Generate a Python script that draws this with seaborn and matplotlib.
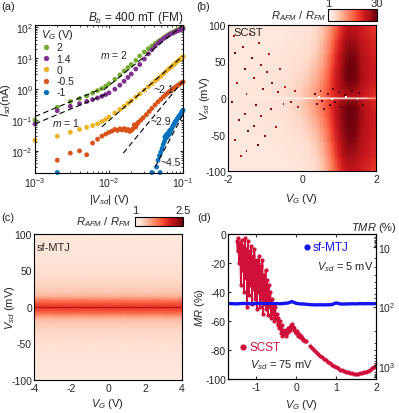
import matplotlib
matplotlib.use("Agg")
import matplotlib.pyplot as plt
from matplotlib.colors import LogNorm, Normalize
from matplotlib.lines import Line2D
from matplotlib.ticker import NullLocator
import numpy as np
import pandas as pd
import seaborn as sns

# ---------------- data ----------------
# (a) I-V curves at B_b = 400 mT, |Vsd| in mV, Isd in nA
vsd_mv = [1, 2, 3, 4, 5, 6, 7, 8, 9, 10, 12, 14, 16, 18, 20, 23, 26, 30, 34, 38,
          42, 46, 50, 55, 60, 65, 70, 75, 80, 85, 90, 95, 100]
isd_vg2 = [0.1, 0.26, 0.4, 0.5, 0.6, 0.75, 0.9, 1.05, 1.25, 1.5, 2.1, 2.9, 3.9, 5.0, 6.3,
           8.6, 12, 16, 20.5, 25, 30, 35, 40, 47, 54, 61, 67, 73, 79, 85, 90, 95, 100]
isd_vg14 = [0.075, 0.2, 0.28, 0.34, 0.4, 0.46, 0.52, 0.59, 0.67, 0.76, 1.0, 1.35, 1.8, 2.4,
            3.1, 4.5, 6.3, 9.5, 14, 19, 25, 31, 37, 44, 51, 57, 63, 68, 73, 78, 82, 86, 90]
isd_vg0 = [0.022, 0.03, 0.04, 0.05, 0.058, 0.066, 0.075, 0.09, 0.105, 0.125, 0.17, 0.22,
           0.28, 0.35, 0.42, 0.55, 0.7, 0.93, 1.2, 1.5, 1.85, 2.2, 2.6, 3.2, 3.9, 4.6, 5.4,
           6.2, 7.1, 8.1, 9.1, 10.2, 11.3]
vsd_mv_m05 = [2, 3, 4, 5, 6, 7, 8, 9, 10, 11, 12, 13, 14, 15, 16, 17, 18, 19, 20, 21, 22,
              23, 24, 25, 27, 29, 32, 35, 38, 42, 46, 50, 54, 58, 62, 66, 70, 75, 80, 85,
              90, 95, 100]
isd_vgm05 = [0.005, 0.0085, 0.01, 0.0075, 0.018, 0.024, 0.03, 0.035, 0.04, 0.044, 0.05,
             0.046, 0.052, 0.048, 0.053, 0.046, 0.05, 0.043, 0.046, 0.052, 0.07, 0.06,
             0.075, 0.085, 0.1, 0.12, 0.15, 0.19, 0.24, 0.31, 0.39, 0.47, 0.56, 0.65,
             0.75, 0.85, 0.95, 1.07, 1.2, 1.33, 1.46, 1.6, 1.72]
vsd_mv_m1 = [2, 38, 44, 46, 48, 49, 50, 52, 54, 56, 57, 58, 59, 60, 61, 62, 63, 64, 65,
             66, 67, 68, 70, 72, 74, 76, 78, 80, 82, 84, 86, 88, 90, 92, 94, 96, 98, 100]
isd_vgm1 = [0.002, 0.002, 0.003, 0.005, 0.007, 0.002, 0.009, 0.012, 0.016, 0.02, 0.028,
            0.025, 0.032, 0.027, 0.035, 0.03, 0.038, 0.033, 0.036, 0.045, 0.04, 0.048,
            0.05, 0.06, 0.068, 0.075, 0.085, 0.09, 0.1, 0.11, 0.12, 0.13, 0.14, 0.15,
            0.16, 0.18, 0.19, 0.21]
vg_labels = ["2", "1.4", "0", "-0.5", "-1"]
vg_colors = ["#77AC30", "#7E2F8E", "#EDB120", "#D95319", "#0072BD"]

# power-law guides (V, nA)
fit_v = [[1e-3, 8e-3], [1e-3, 1e-2], [8.5e-3, 0.1], [8e-3, 0.1], [0.0156, 0.1], [0.042, 0.1]]
fit_i = [[0.13, 1.04], [0.075, 0.75], [0.95, 120], [0.06, 12], [0.0085, 1.85], [0.003, 0.15]]

# (b) SCST: R_AFM / R_FM map
scst_vg = [-2, -1.5, -1, -0.6, -0.3, 0, 0.2, 0.4, 0.5, 0.6, 0.7, 0.8, 0.9, 1.0, 1.1, 1.2,
           1.3, 1.4, 1.5, 1.6, 1.7, 1.8, 1.9, 2.0]
scst_vsd = [-100, -80, -60, -40, -25, -12, -2, 0, 2, 12, 25, 40, 60, 80, 100]
scst_ratio = [
    [1.3, 1.3, 1.3, 1.3, 1.35, 1.4, 1.45, 1.6, 1.8, 2.2, 2.9, 4, 5.5, 8, 11, 13, 14, 14, 13, 12, 11, 10, 9, 8],
    [1.3, 1.3, 1.3, 1.35, 1.4, 1.45, 1.55, 1.8, 2.1, 2.6, 3.5, 5, 7.5, 11, 15, 18, 19, 18, 16, 14, 13, 12, 11, 10],
    [1.3, 1.35, 1.35, 1.4, 1.45, 1.5, 1.7, 2.1, 2.5, 3.2, 4.3, 6.5, 9.5, 14, 19, 23, 25, 24, 21, 17, 15, 13, 12, 11],
    [1.3, 1.35, 1.4, 1.4, 1.5, 1.65, 2, 2.6, 3.2, 4.1, 5.5, 8, 12, 16, 22, 26, 28, 27, 24, 19, 16, 14, 13, 12],
    [1.3, 1.35, 1.4, 1.45, 1.55, 1.8, 2.3, 3.1, 3.8, 4.8, 6.5, 9, 13, 18, 23, 27, 29, 28, 25, 20, 16, 14, 13, 12],
    [1.3, 1.4, 1.4, 1.5, 1.65, 2, 2.6, 3.5, 4.5, 5.6, 7, 10, 14, 18, 23, 27, 29, 28, 25, 20, 16, 14, 12, 11],
    [1.3, 1.4, 1.4, 1.5, 1.6, 1.9, 2.6, 3.6, 4.6, 5.6, 7, 9, 11, 14, 17, 20, 21, 20, 18, 16, 14, 12, 11, 10],
    [1.3, 1.25, 1.15, 1.1, 1.05, 1.05, 1.05, 1.1, 1.1, 1.1, 1.1, 1.1, 1.1, 1.1, 1.1, 1.1, 1.1, 1.1, 1.1, 1.1, 1.2, 2, 3, 3],
    [1.3, 1.4, 1.4, 1.5, 1.6, 1.9, 2.5, 3.4, 4.3, 5.3, 6.6, 8.5, 10, 12, 14, 16, 16, 15, 14, 13, 12, 11, 10, 9],
    [1.3, 1.4, 1.4, 1.5, 1.6, 1.9, 2.4, 3.2, 4, 5, 6.5, 9, 12, 15, 18, 21, 22, 21, 19, 16, 14, 12, 11, 10],
    [1.3, 1.35, 1.4, 1.45, 1.55, 1.75, 2.1, 2.8, 3.4, 4.4, 6, 8.5, 12, 16, 21, 26, 28, 27, 24, 19, 16, 14, 13, 12],
    [1.3, 1.35, 1.4, 1.4, 1.5, 1.6, 1.9, 2.4, 2.9, 3.7, 5, 7.5, 11, 15, 21, 27, 29, 28, 25, 19, 16, 14, 13, 12],
    [1.3, 1.35, 1.35, 1.4, 1.45, 1.5, 1.65, 2, 2.4, 3, 4, 6, 9, 13, 18, 23, 26, 25, 22, 17, 15, 13, 12, 11],
    [1.3, 1.3, 1.3, 1.35, 1.4, 1.45, 1.5, 1.75, 2.1, 2.6, 3.4, 4.8, 7, 10, 14, 18, 20, 19, 17, 14, 13, 12, 11, 10],
    [1.3, 1.3, 1.3, 1.3, 1.35, 1.4, 1.45, 1.6, 1.8, 2.2, 2.8, 3.8, 5.2, 7.5, 10, 13, 14, 14, 13, 12, 11, 10, 9, 8],
]
# isolated spikes in the SCST map
spike_vg = [-1.85, -1.8, -1.75, -1.9, -1.7, -1.8, -1.65, -1.6, -1.55, -1.5, -1.55, -1.45,
            -1.5, -1.4, -1.35, -1.3, -1.25, -1.3, -1.2, -1.15, -1.1, -1.05, -1.1, -1.0,
            -0.95, -0.9, -0.85, -0.8, -0.7, -0.65, -0.6, -0.5, -0.45, -0.3, -0.2, -0.1,
            0.35, 0.4, 0.5, 0.55, 0.6, 0.7, 0.75, 0.85, 0.9, 1.0, 1.05, 1.15, 1.25, 1.35,
            1.45, 1.55, 1.65, 0.45, 0.8, 1.2, 1.5]
spike_vsd = [85, 62, 20, -5, -30, -58, -80, 70, 40, 5, -22, -45, -72, 88, 55, 28, -10,
             -38, -65, 75, 45, 12, -25, -52, 35, 60, -15, 20, -40, 8, 40, -8, 15, -5, 10,
             -12, 5, -8, 10, -4, -15, 6, -10, 12, -6, 8, -12, 4, -8, 10, -5, 7, -10, 2,
             -2, 2, -2]
spike_val = [20, 25, 18, 22, 25, 20, 15, 22, 25, 20, 18, 25, 22, 15, 25, 20, 25, 22, 25,
             18, 22, 25, 20, 22, 18, 15, 22, 20, 15, 22, 12, 20, 12, 18, 15, 15, 28, 28,
             30, 30, 28, 30, 30, 30, 30, 30, 30, 30, 30, 30, 30, 30, 30, 1, 1, 1, 1]

# (c) sf-MTJ: R_AFM / R_FM, no gate dependence
mtj_vg = [-4, -2, 0, 2, 4]
mtj_vsd = [-100, -80, -60, -45, -30, -20, -15, -12, -9, -6, -3, -1, 0, 1, 3, 6, 9, 12,
           15, 20, 30, 45, 60, 80, 100]
mtj_profile = [1.13, 1.14, 1.16, 1.2, 1.25, 1.32, 1.42, 1.55, 1.7, 1.8, 1.9, 1.95, 2.3,
               1.95, 1.9, 1.8, 1.7, 1.55, 1.42, 1.32, 1.25, 1.2, 1.16, 1.14, 1.13]

# (d) MR vs V_G
scst_mr_vg = [-1.48, -1.46, -1.44, -1.42, -1.40, -1.38, -1.36, -1.34, -1.32, -1.30, -1.28,
              -1.26, -1.24, -1.22, -1.20, -1.18, -1.16, -1.14, -1.12, -1.10, -1.08, -1.06,
              -1.04, -1.02, -1.00, -0.98, -0.96, -0.94, -0.92, -0.90, -0.88, -0.86, -0.84,
              -0.82, -0.80, -0.78, -0.76, -0.74, -0.72, -0.70, -0.68, -0.66, -0.64, -0.62,
              -0.60, -0.58, -0.56, -0.54, -0.52, -0.50, -0.48, -0.46, -0.44, -0.42, -0.40,
              -0.38, -0.36, -0.34, -0.32, -0.30, -0.28, -0.26, -0.24, -0.22, -0.20, -0.18,
              -0.16, -0.14, -0.12, -0.10, -0.08, -0.06, -0.04, -0.02, 0.00, 0.02, 0.04,
              0.06, 0.08, 0.10, 0.12, 0.14, 0.16, 0.18, 0.20, 0.22, 0.24, 0.30, 0.36, 0.40,
              0.45, 0.50, 0.55, 0.60, 0.65, 0.70, 0.75, 0.80, 0.85, 0.90, 0.95, 1.00, 1.05,
              1.10, 1.15, 1.20, 1.25, 1.30, 1.35, 1.40, 1.45, 1.50, 1.55, 1.60, 1.65, 1.70,
              1.75, 1.80, 1.85, 1.90, 1.95, 2.00]
scst_mr = [-5, -12, -3, -20, -6, -35, -4, -25, -8, -40, -3, -30, -10, -50, -5, -42, -12,
           -35, -8, -48, -15, -38, -10, -45, -18, -52, -20, -40, -15, -50, -22, -45, -18,
           -55, -28, -48, -25, -52, -32, -56, -35, -50, -40, -58, -45, -55, -48, -60, -50,
           -58, -55, -63, -58, -65, -60, -68, -63, -70, -66, -69, -67, -70, -66, -68, -65,
           -67, -64, -66, -63, -62, -64, -66, -65, -67, -68, -67, -69, -70, -69, -71, -70,
           -72, -72, -73, -73, -74, -74, np.nan, -77, -78.5, -80, -81.5, -82.5, -84, -85,
           -86, -87, -88, -89, -90, -91, -92, -92.5, -93.5, -94, -94.5, -95, -95.5, -96,
           -96, -96.5, -96.5, -96.5, -96, -96, -95.5, -95, -94.5, -93.5, -92.5, -91.5, -90.5]
mtj_mr_vg = [-1.7, -1.6, -1.5, -1.4, -1.3, -1.2, -1.1, -1.0, -0.9, -0.8, -0.7, -0.6, -0.5,
             -0.4, -0.3, -0.2, -0.1, 0.0, 0.1, 0.2, 0.3, 0.4, 0.5, 0.6, 0.7, 0.8, 0.9, 1.0,
             1.1, 1.2, 1.3, 1.4, 1.5, 1.6, 1.7, 1.8, 1.9, 2.0]
mtj_mr = [-48, -48, -48.2, -48, -47.9, -48, -48.1, -48, -47.9, -48, -48, -47.8, -48,
          -48.1, -47.9, -47.6, -46.6, -47.8, -48.2, -48.3, -48.6, -48.8, -48.9, -48.8,
          -48.9, -48.8, -48.7, -47.5, -48.2, -48.3, -48.2, -48.1, -48.2, -48, -48.1, -48,
          -48.1, -48]
tmr_major = [10, 100, 1000]

# ---------------- style ----------------
sns.set_style("ticks")
plt.rcParams["font.family"] = ["Liberation Sans", "DejaVu Sans"]
plt.rcParams["mathtext.fontset"] = "custom"
plt.rcParams["mathtext.rm"] = "Liberation Sans"
plt.rcParams["mathtext.it"] = "Liberation Sans:italic"
plt.rcParams["axes.unicode_minus"] = False
plt.rcParams["font.size"] = 7.5
plt.rcParams["axes.labelsize"] = 8
plt.rcParams["xtick.labelsize"] = 7.5
plt.rcParams["ytick.labelsize"] = 7.5
plt.rcParams["axes.linewidth"] = 0.8
plt.rcParams["axes.edgecolor"] = "black"
plt.rcParams["xtick.direction"] = "in"
plt.rcParams["ytick.direction"] = "in"
plt.rcParams["xtick.major.size"] = 2.5
plt.rcParams["ytick.major.size"] = 2.5
plt.rcParams["xtick.minor.size"] = 1.5
plt.rcParams["ytick.minor.size"] = 1.5
plt.rcParams["xtick.major.pad"] = 2
plt.rcParams["ytick.major.pad"] = 1.5

W, H = 399, 414


def box(l, t, r, b):
    return [l / W, 1 - b / H, (r - l) / W, (b - t) / H]


def pt(x, y):
    return x / W, 1 - y / H


fig = plt.figure(figsize=(W / 100, H / 100), dpi=100)
ax_a = fig.add_axes(box(35, 26, 183, 173.5))
ax_b = fig.add_axes(box(228, 26, 376, 172))
ax_c = fig.add_axes(box(34, 235, 182, 381))
ax_d = fig.add_axes(box(228, 235, 376, 380))

# ---------------- (a) ----------------
series = [(vsd_mv, isd_vg2), (vsd_mv, isd_vg14), (vsd_mv, isd_vg0),
          (vsd_mv_m05, isd_vgm05), (vsd_mv_m1, isd_vgm1)]
df = pd.concat([pd.DataFrame({"vsd": np.array(v) * 1e-3, "isd": i, "vg": lab})
                for (v, i), lab in zip(series, vg_labels)], ignore_index=True)
sns.scatterplot(data=df, x="vsd", y="isd", hue="vg", hue_order=vg_labels,
                palette=dict(zip(vg_labels, vg_colors)), s=12, linewidth=0,
                legend=False, ax=ax_a, clip_on=False, zorder=2)
for fv, fi in zip(fit_v, fit_i):
    ax_a.plot(fv, fi, color="black", lw=0.8, ls=(0, (5, 3)), zorder=3)
ax_a.set_xscale("log")
ax_a.set_yscale("log")
ax_a.set_xlim(1e-3, 0.1)
ax_a.set_ylim(2e-3, 120)
ax_a.set_xlabel(r"$|V_{sd}|$ (V)")
ax_a.set_ylabel(r"$I_{sd}$(nA)")
ax_a.xaxis.set_label_coords(0.5, -0.135)
ax_a.yaxis.set_label_coords(-0.15, 0.5)
ax_a.tick_params(which="both", top=True, right=True)
ax_a.set_title(r"$B_b$ = 400 mT (FM)", loc="right", fontsize=8.5, pad=3)
handles = [Line2D([], [], ls="", marker="o", ms=3.8, mew=0, color=c) for c in vg_colors]
ax_a.legend(handles, vg_labels, title=r"$V_G$ (V)", loc="upper left",
            bbox_to_anchor=(0.04, 0.985), frameon=False, fontsize=7.5,
            title_fontsize=8, handletextpad=0.5, labelspacing=0.12, borderpad=0,
            borderaxespad=0, handlelength=1.0, alignment="left")
ax_a.text(7.6e-3, 14, "$m$ = 2", fontsize=7.5, va="center")
ax_a.text(1.7e-3, 0.088, "$m$ = 1", fontsize=7.5, va="center")
ax_a.text(0.04, 0.98, "~2.1", fontsize=7.5, va="center")
ax_a.text(0.036, 0.09, "~2.9", fontsize=7.5, va="center")
ax_a.text(0.049, 0.0045, "~4.5", fontsize=7.5, va="center")

# ---------------- (b) ----------------
cmap = plt.get_cmap("Reds")
norm_b = LogNorm(1, 30)
mesh_b = ax_b.pcolormesh(scst_vg, scst_vsd, np.array(scst_ratio), shading="gouraud",
                         cmap=cmap, norm=norm_b)
ax_b.scatter(spike_vg, spike_vsd, c=spike_val, cmap=cmap, norm=norm_b, marker="s",
             s=2, linewidths=0)
ax_b.set_xlim(-2, 2)
ax_b.set_ylim(-100, 100)
ax_b.set_xticks([-2, 0, 2])
ax_b.set_yticks([-100, -50, 0, 50, 100])
ax_b.set_xlabel(r"$V_G$ (V)")
ax_b.set_ylabel(r"$V_{sd}$ (mV)")
ax_b.xaxis.set_label_coords(0.5, -0.14)
ax_b.yaxis.set_label_coords(-0.11, 0.5)
ax_b.tick_params(top=True, right=True)
ax_b.text(0.035, 0.95, "SCST", transform=ax_b.transAxes, fontsize=8, va="center")

cax_b = fig.add_axes(box(328.3, 10, 376.7, 21.7))
cb_b = fig.colorbar(mesh_b, cax=cax_b, orientation="horizontal")
cb_b.set_ticks([1, 30])
cb_b.set_ticklabels(["1", "30"])
cax_b.xaxis.set_minor_locator(NullLocator())
cax_b.xaxis.set_ticks_position("top")
cax_b.tick_params(length=0, pad=1, labelsize=8)
cb_b.outline.set_linewidth(0.8)
fig.text(*pt(326, 16), r"$R_{AFM}$ / $R_{FM}$", ha="right", va="center", fontsize=8)

# ---------------- (c) ----------------
mtj_map = np.tile(np.array(mtj_profile)[:, None], (1, len(mtj_vg)))
norm_c = Normalize(1, 2.5)
mesh_c = ax_c.pcolormesh(mtj_vg, mtj_vsd, mtj_map, shading="gouraud", cmap=cmap, norm=norm_c)
ax_c.set_xlim(-4, 4)
ax_c.set_ylim(-100, 100)
ax_c.set_xticks([-4, -2, 0, 2, 4])
ax_c.set_yticks([-100, -50, 0, 50, 100])
ax_c.set_xlabel(r"$V_G$ (V)")
ax_c.set_ylabel(r"$V_{sd}$ (mV)")
ax_c.xaxis.set_label_coords(0.5, -0.11)
ax_c.yaxis.set_label_coords(-0.115, 0.5)
ax_c.tick_params(top=True, right=True)
ax_c.text(0.02, 0.91, "sf-MTJ", transform=ax_c.transAxes, fontsize=8, va="center")

cax_c = fig.add_axes(box(135, 217.7, 182.7, 226.7))
cb_c = fig.colorbar(mesh_c, cax=cax_c, orientation="horizontal")
cb_c.set_ticks([1, 2.5])
cb_c.set_ticklabels(["1", "2.5"])
cax_c.xaxis.set_minor_locator(NullLocator())
cax_c.xaxis.set_ticks_position("top")
cax_c.tick_params(length=0, pad=1, labelsize=8)
cb_c.outline.set_linewidth(0.8)
fig.text(*pt(131, 222), r"$R_{AFM}$ / $R_{FM}$", ha="right", va="center", fontsize=8)

# ---------------- (d) ----------------
red = "#D0103A"
blue = "#1414F0"
ax_d.plot(scst_mr_vg, scst_mr, color=red, lw=1.2, marker="o", ms=3, mew=0, zorder=2)
ax_d.plot(mtj_mr_vg, mtj_mr, color=blue, lw=2.4, zorder=3)
ax_d.set_xlim(-1.7, 2)
ax_d.set_ylim(-100, 0)
ax_d.set_xticks([-1, 0, 1, 2])
ax_d.set_yticks([0, -20, -40, -60, -80, -100])
ax_d.set_xlabel(r"$V_G$ (V)")
ax_d.set_ylabel(r"$MR$ (%)")
ax_d.xaxis.set_label_coords(0.5, -0.125)
ax_d.yaxis.set_label_coords(-0.14, 0.5)
ax_d.tick_params(top=True, right=False)
ax_d.plot([0.27], [-9.2], "o", color=blue, ms=4.5, mew=0)
ax_d.text(0.42, -9.2, "sf-MTJ", color=blue, fontsize=8.5, va="center")
ax_d.text(0.52, -22, r"$V_{sd}$ = 5 mV", fontsize=8, va="center")
ax_d.plot([-1.32], [-78], "o", color=red, ms=4.5, mew=0)
ax_d.text(-1.15, -78, "SCST", color=red, fontsize=8.5, va="center")
ax_d.text(-1.15, -89.7, r"$V_{sd}$ = 75 mV", fontsize=8, va="center")


def tmr_to_mr(t):
    return -100.0 * t / (100.0 + t)


ax_t = ax_d.twinx()
ax_t.set_ylim(-100, 0)
ax_t.set_yticks([tmr_to_mr(t) for t in tmr_major])
ax_t.set_yticklabels(["$10$", "$10^2$", "$10^3$"])
minor = [m * d for d in (1, 10, 100, 1000) for m in range(2, 10)]
ax_t.set_yticks([tmr_to_mr(t) for t in minor], minor=True)
ax_t.tick_params(which="both", direction="in")
fig.text(*pt(397, 228), r"$TMR$ (%)", ha="right", va="center", fontsize=8)

# panel letters
for lab, (x, y) in zip(["(a)", "(b)", "(c)", "(d)"], [(1, 7), (196, 7), (1, 218), (197, 218)]):
    fig.text(*pt(x, y), lab, fontsize=8, va="center")

fig.savefig("out.png", dpi=100)
